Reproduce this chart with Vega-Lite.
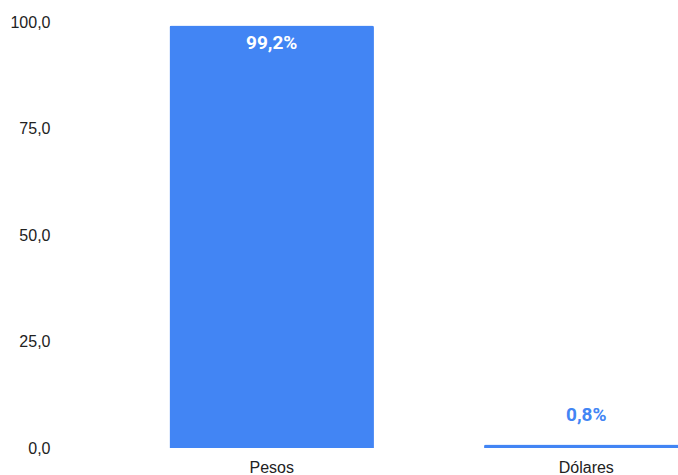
{
  "$schema": "https://vega.github.io/schema/vega-lite/v6.json",
  "width": 618,
  "height": 426,
  "autosize": {"type": "none"},
  "padding": {"left": 60, "top": 22, "right": 0, "bottom": 27},
  "background": "white",
  "config": {"view": {"stroke": null}},
  "data": {
    "values": [
      {"moneda": "Pesos", "valor": 99.2},
      {"moneda": "Dólares", "valor": 0.8}
    ]
  },
  "transform": [
    {"calculate": "replace(format(datum.valor, '.1f'), '.', ',') + '%'", "as": "etiqueta"}
  ],
  "encoding": {
    "x": {
      "field": "moneda",
      "type": "nominal",
      "sort": ["Pesos", "Dólares"],
      "scale": {"range": [0, 738], "paddingInner": 0.35, "paddingOuter": 0.348},
      "axis": {
        "title": null,
        "labelAngle": 0,
        "domain": false,
        "ticks": false,
        "tickSize": 0,
        "labelPadding": 11,
        "labelFont": "Liberation Sans",
        "labelFontSize": 16,
        "labelColor": "#222222"
      }
    },
    "y": {
      "field": "valor",
      "type": "quantitative",
      "scale": {"domain": [0, 100], "nice": false},
      "axis": {
        "title": null,
        "values": [0, 25, 50, 75, 100],
        "domain": false,
        "ticks": false,
        "tickSize": 0,
        "grid": false,
        "labelPadding": 10,
        "labelFont": "Liberation Sans",
        "labelFontSize": 16,
        "labelColor": "#222222",
        "labelExpr": "replace(format(datum.value, '.1f'), '.', ',')"
      }
    }
  },
  "layer": [
    {
      "mark": {"type": "bar", "color": "#4285F4", "cornerRadiusTopLeft": 2, "cornerRadiusTopRight": 2}
    },
    {
      "transform": [{"filter": "datum.valor > 50"}],
      "mark": {"type": "text", "font": "Roboto", "fontWeight": "bold", "fontSize": 19, "baseline": "alphabetic", "dy": 24, "color": "#ffffff"},
      "encoding": {"text": {"field": "etiqueta"}}
    },
    {
      "transform": [{"filter": "datum.valor <= 50"}],
      "mark": {"type": "text", "font": "Roboto", "fontWeight": "bold", "fontSize": 19, "baseline": "alphabetic", "dy": -24, "color": "#4285F4"},
      "encoding": {"text": {"field": "etiqueta"}}
    }
  ]
}
